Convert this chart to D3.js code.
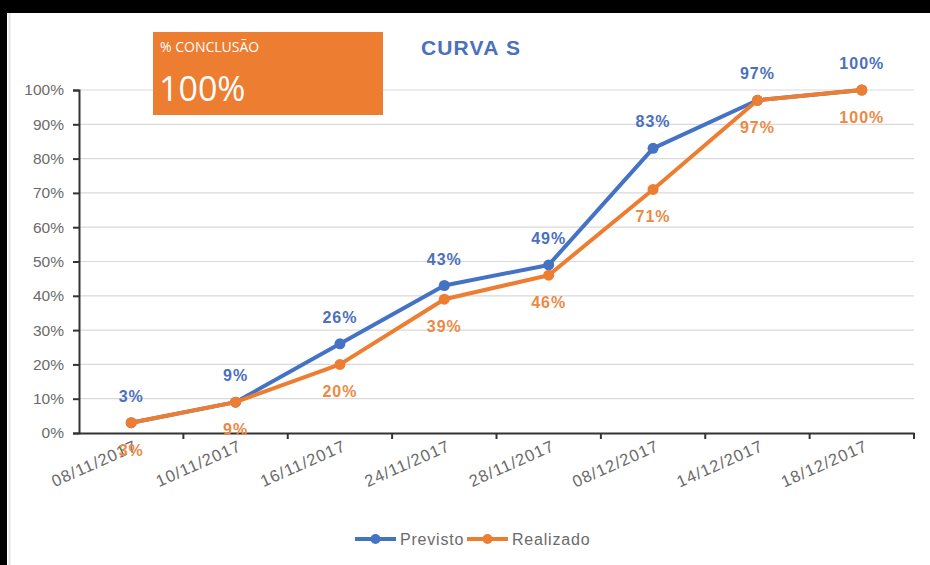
<!DOCTYPE html>
<html>
<head>
<meta charset="utf-8">
<script src="https://cdn.jsdelivr.net/npm/d3@7/dist/d3.min.js"></script>
<style>
  html, body { margin: 0; padding: 0; background: #000; }
  svg { display: block; }
</style>
</head>
<body>
<svg id="chart" width="930" height="565"></svg>
<script>
const categories = ["08/11/2017","10/11/2017","16/11/2017","24/11/2017","28/11/2017","08/12/2017","14/12/2017","18/12/2017"];
const previsto  = [0.03, 0.09, 0.26, 0.43, 0.49, 0.83, 0.97, 1.00];
const realizado = [0.03, 0.09, 0.20, 0.39, 0.46, 0.71, 0.97, 1.00];
const seriesNames = ["Previsto", "Realizado"];
const yTicks = [0,0.1,0.2,0.3,0.4,0.5,0.6,0.7,0.8,0.9,1.0];
const title = "CURVA S";
const cardLabel = "% CONCLUSÃO";
const cardValue = "100%";

(function () {
const BLUE = "#4472C4", ORANGE = "#ED7D31";
const FONT = "Liberation Sans, Arial, sans-serif";
const svg = d3.select("#chart");

// background
svg.append("rect").attr("x",0).attr("y",0).attr("width",930).attr("height",565).attr("fill","#000");
svg.append("rect").attr("x",7).attr("y",13).attr("width",923).attr("height",552).attr("fill","#fff");
svg.append("line").attr("x1",9.5).attr("x2",9.5).attr("y1",13).attr("y2",565).attr("stroke","#e3e3e3").attr("stroke-width",2);

const pl = 79, pr = 914, pt = 90, pb = 433;
const x = d3.scaleBand().domain(categories).range([pl, pr]).paddingInner(0).paddingOuter(0);
const y = d3.scaleLinear().domain([0,1]).range([pb, pt]);
const cx = d => x(d) + x.bandwidth()/2;

// gridlines
svg.append("g").selectAll("line").data(yTicks.filter(t => t > 0)).join("line")
  .attr("x1", pl).attr("x2", pr)
  .attr("y1", d => y(d)).attr("y2", d => y(d))
  .attr("stroke", "#d9d9d9").attr("stroke-width", 1.2);

// y axis
const yAxis = svg.append("g").attr("transform", `translate(${pl},0)`)
  .call(d3.axisLeft(y).tickValues(yTicks).tickFormat(d3.format(".0%")).tickSize(6).tickPadding(9));
yAxis.select(".domain").attr("stroke", "#333").attr("stroke-width", 2);
yAxis.selectAll(".tick line").attr("stroke", "#333").attr("stroke-width", 2);
yAxis.selectAll("text").attr("fill", "#6b6b6b").style("font-family", FONT).style("font-size", "15.5px");

// x axis
const xAxis = svg.append("g").attr("transform", `translate(0,${pb})`)
  .call(d3.axisBottom(x).tickSize(0).tickPadding(0));
xAxis.select(".domain").attr("stroke", "#333").attr("stroke-width", 2);
const boundaries = categories.map(c => x(c)).concat([pr]);
xAxis.selectAll(".bnd").data(boundaries.slice(1)).join("line").attr("class","bnd")
  .attr("x1", d => d).attr("x2", d => d).attr("y1", 0).attr("y2", 6)
  .attr("stroke", "#333").attr("stroke-width", 2);
xAxis.selectAll(".tick text")
  .attr("fill", "#6b6b6b")
  .style("font-family", FONT).style("font-size", "16.5px").style("letter-spacing", "1px")
  .attr("text-anchor", "end")
  .attr("dy", null).attr("y", 0)
  .attr("transform", "translate(7,17) rotate(-24)");

// lines
const line = d3.line().x((d,i) => cx(categories[i])).y(d => y(d));
[[previsto, BLUE], [realizado, ORANGE]].forEach(([vals, col]) => {
  svg.append("path").datum(vals).attr("d", line)
    .attr("fill", "none").attr("stroke", col).attr("stroke-width", 4).attr("stroke-linejoin", "round");
  svg.append("g").selectAll("circle").data(vals).join("circle")
    .attr("cx", (d,i) => cx(categories[i])).attr("cy", d => y(d)).attr("r", 5.5).attr("fill", col);
});

// data labels
const fmt = d3.format(".0%");
svg.append("g").selectAll("text").data(previsto).join("text")
  .attr("x", (d,i) => cx(categories[i])).attr("y", d => y(d) - 21)
  .attr("text-anchor", "middle").attr("fill", "#4a70be")
  .style("font-family", FONT).style("font-size", "16px").style("font-weight", "bold").style("letter-spacing", "1px")
  .text(d => fmt(d));
svg.append("g").selectAll("text").data(realizado).join("text")
  .attr("x", (d,i) => cx(categories[i])).attr("y", d => y(d) + 33)
  .attr("text-anchor", "middle").attr("fill", "#ec8a45")
  .style("font-family", FONT).style("font-size", "16px").style("font-weight", "bold").style("letter-spacing", "1px")
  .text(d => fmt(d));

// title
svg.append("text").attr("x", 471).attr("y", 55).attr("text-anchor", "middle")
  .attr("fill", "#4a70be").style("font-family", FONT)
  .style("font-size", "21px").style("font-weight", "bold").style("letter-spacing", "1.2px").text(title);

// card
svg.append("rect").attr("x", 153).attr("y", 32).attr("width", 230).attr("height", 83).attr("fill", ORANGE);
svg.append("text").attr("x", 160).attr("y", 52).attr("fill", "#fff")
  .style("font-family", "Open Sans, sans-serif").style("font-size", "14px").text(cardLabel);
svg.append("text").attr("x", 159).attr("y", 101).attr("fill", "#fff")
  .style("font-family", "Open Sans, sans-serif").style("font-size", "34px").text(cardValue);

// legend
const legend = svg.append("g");
const legendItems = [{name: seriesNames[0], col: BLUE, x0: 355}, {name: seriesNames[1], col: ORANGE, x0: 467}];
legendItems.forEach(it => {
  legend.append("line").attr("x1", it.x0).attr("x2", it.x0 + 41).attr("y1", 539).attr("y2", 539)
    .attr("stroke", it.col).attr("stroke-width", 4);
  legend.append("circle").attr("cx", it.x0 + 20.5).attr("cy", 539).attr("r", 5).attr("fill", it.col);
  legend.append("text").attr("x", it.x0 + 45).attr("y", 544.5).attr("fill", "#6b6b6b")
    .style("font-family", FONT).style("font-size", "16px").style("letter-spacing", "0.8px").text(it.name);
});
})();
</script>
</body>
</html>
